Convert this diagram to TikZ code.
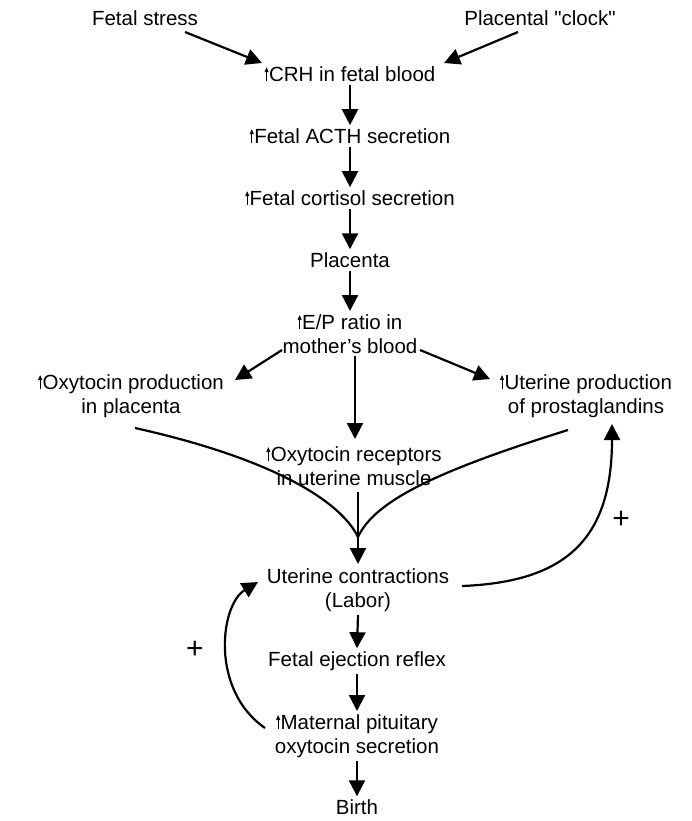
\documentclass[tikz,border=0pt]{standalone}
\usepackage{fontspec}
\setmainfont{Liberation Sans}
% same face without TeX input mapping, for straight quote marks
\newfontfamily\plainquotes{Liberation Sans}[Ligatures=ResetAll]
\usetikzlibrary{arrows.meta}
% small "increase" arrow set before a label
\newcommand{\incr}{\tikz[baseline=0pt]\draw[line width=0.8pt,-{Triangle[length=5pt,width=4pt]}] (0,0) -- (0,14pt);\hspace{0.5pt}}
\begin{document}
\begin{tikzpicture}[x=1pt,y=-1pt,
  lbl/.style={font=\fontsize{20.5}{24.5}\selectfont, align=center, inner sep=1pt},
  flow/.style={line width=2.2pt, -{Triangle[length=16pt,width=16pt]}},
  link/.style={line width=2.2pt},
  plus/.style={font=\fontsize{30}{30}\selectfont, inner sep=0pt}]
\useasboundingbox (0,0) rectangle (692,821);

\node[lbl] (stress) at (145,18) {Fetal stress};
\node[lbl] (clock)  at (540,18) {Placental {\plainquotes "}clock{\plainquotes "}};
\node[lbl] (crh)    at (350,74) {\incr CRH in fetal blood};
\node[lbl] (acth)   at (350,136) {\incr Fetal ACTH secretion};
\node[lbl] (cort)   at (350,198) {\incr Fetal cortisol secretion};
\node[lbl] (plac)   at (350,260) {Placenta};
\node[lbl] (ep)     at (350,334) {\incr E/P ratio in\\mother's blood};
\node[lbl] (oxyp)   at (131,396) {\incr Oxytocin production\\in placenta};
\node[lbl] (prost)  at (586,396) {\incr Uterine production\\of prostaglandins};
\node[lbl] (recep)  at (354,466) {\incr Oxytocin receptors\\in uterine muscle};
\node[lbl] (labor)  at (358,590) {Uterine contractions\\(Labor)};
\node[lbl] (eject)  at (357,661) {Fetal ejection reflex};
\node[lbl] (mat)    at (357,736) {\incr Maternal pituitary\\oxytocin secretion};
\node[lbl] (birth)  at (357,807) {Birth};
\node[plus] (plusR) at (621,520) {+};
\node[plus] (plusL) at (195,650) {+};

\coordinate (join) at (358,537);

% inputs to the placental cascade
\draw[flow] ([shift={(40,14)}]stress.center) -- ([shift={(-88,-11)}]crh.center);
\draw[flow] ([shift={(-22,14)}]clock.center) -- ([shift={(94,-11)}]crh.center);

% main chain
\draw[flow] ([yshift=-2pt]crh.south) -- ([yshift=2pt]acth.north);
\draw[flow] ([yshift=-2pt]acth.south) -- ([yshift=2pt]cort.north);
\draw[flow] ([yshift=-2pt]cort.south) -- ([yshift=2pt]plac.north);
\draw[flow] ([yshift=-2pt]plac.south) -- ([yshift=2pt]ep.north);

% branches from the E/P ratio
\draw[flow] ([shift={(-68,16)}]ep.center) -- ([shift={(104,-16)}]oxyp.center);
\draw[flow] ([shift={(5,22)}]ep.center) -- ([shift={(1,-27)}]recep.center);
\draw[flow] ([shift={(70,16)}]ep.center) -- ([shift={(-96,-17)}]prost.center);

% convergence on uterine contractions
\draw[link] ([shift={(4,32)}]oxyp.center) .. controls (270,458) and (340,500) .. (join);
\draw[link] ([shift={(-18,34)}]prost.center) .. controls (440,470) and (375,500) .. (join);
\draw[flow] ([shift={(4,26)}]recep.center) -- ([shift={(0,-26)}]labor.center);

% positive feedback loops
\draw[flow] ([shift={(104,-4)}]labor.center) .. controls (565,582) and (612,540) .. ([shift={(26,28)}]prost.center);
\draw[flow] ([shift={(-92,-8)}]mat.center) .. controls (210,690) and (220,605) .. ([shift={(-100,-8)}]labor.center);

% lower chain
\draw[flow] ([yshift=-2pt]labor.south) -- ([yshift=2pt]eject.north);
\draw[flow] ([yshift=-2pt]eject.south) -- ([yshift=2pt]mat.north);
\draw[flow] ([yshift=-2pt]mat.south) -- ([yshift=2pt]birth.north);
\end{tikzpicture}
\end{document}
